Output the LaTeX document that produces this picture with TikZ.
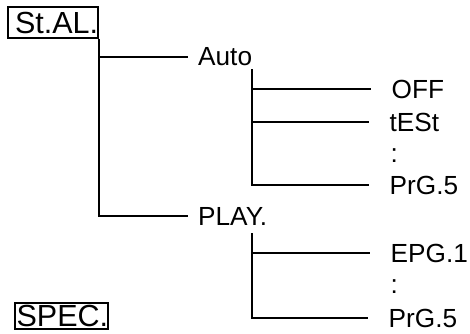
\documentclass[tikz,border=0pt]{standalone}
\usepackage{fontspec}
\setmainfont{Liberation Sans}
\tikzset{
  conn/.style={line width=2.4pt, line join=miter},
  menubox/.style={draw, line width=2.2pt, inner xsep=0pt, font=\fontsize{30.5}{34}\selectfont, anchor=base west},
  midlabel/.style={anchor=west, inner xsep=10pt, inner ysep=0pt, font=\fontsize{26.2}{30}\selectfont},
  leaflabel/.style={anchor=west, inner xsep=20.5pt, inner ysep=0pt, font=\fontsize{26.2}{30}\selectfont},
}
\begin{document}
\begin{tikzpicture}[x=1pt,y=-1pt]
\useasboundingbox (0,0) rectangle (470,333);
% boxed menu titles
\node[menubox, inner ysep=4.6pt] (stal) at (7,33) {\hspace{7pt}St.AL.};
\node[menubox, inner ysep=2.4pt] (spec) at (14,326.5) {\hspace{1.5pt}SPEC.\hspace{1.5pt}};
% second level
\node[midlabel] (auto) at (188,57) {Auto};
\node[midlabel] (play) at (188,216) {PLAY.};
% leaves under Auto
\node[leaflabel] (off) at (371,89) {OFF};
\node[leaflabel] (test) at (369,122) {tESt};
\node[leaflabel] (dotsa) at (370,156) {:};
\node[leaflabel] (prga) at (369,185) {PrG.5};
% leaves under PLAY.
\node[leaflabel] (epg) at (370,253) {EPG.1};
\node[leaflabel] (dotsb) at (370,287) {:};
\node[leaflabel] (prgb) at (368,318) {PrG.5};
% branch roots
\coordinate (autoroot) at (252,69);
\coordinate (playroot) at (252,233);
% connectors
\draw[conn] (stal.south east) |- (auto.west);
\draw[conn] (stal.south east) |- (play.west);
\draw[conn] (autoroot) |- (off.west);
\draw[conn] (autoroot) |- (test.west);
\draw[conn] (autoroot) |- (prga.west);
\draw[conn] (playroot) |- (epg.west);
\draw[conn] (playroot) |- (prgb.west);
\end{tikzpicture}
\end{document}
